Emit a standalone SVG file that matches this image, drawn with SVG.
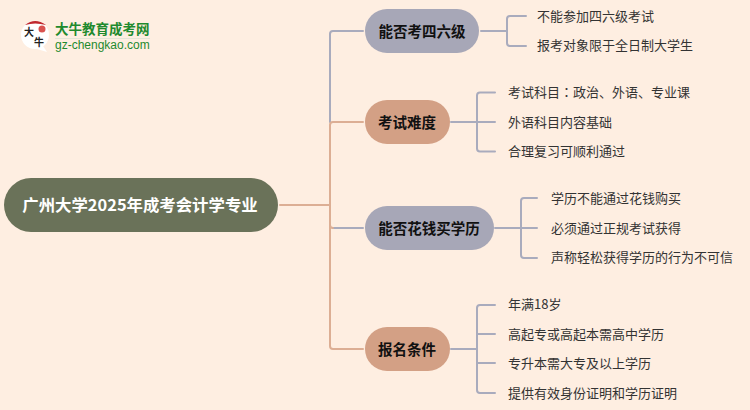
<svg xmlns="http://www.w3.org/2000/svg" width="750" height="410" viewBox="0 0 750 410">
<style>
text{font-family:"Noto Sans CJK SC","Noto Sans",sans-serif}
.l{font-size:13px;fill:#333;dominant-baseline:central}
.b{font-size:14.500px;font-weight:700;fill:#111;text-anchor:middle;dominant-baseline:central}
.p{fill:none;stroke-width:2;stroke-linecap:round}
.o{stroke:#dcae94}.g{stroke:#a9abbd}
</style>
<rect width="750" height="410" fill="#feeee1"/>
<g id="connectors">
<path class="p g" d="M363 31H333Q330 31 330 34V122"/>
<path class="p g" d="M333 228H363"/>
<path class="p o" d="M280 205H330M363 122H333Q330 122 330 125V346Q330 349 333 349H363M330 205V225Q330 228 333 228"/>
<path class="p g" d="M481 31H507M526 16H510Q507 16 507 19V43Q507 46 510 46H526"/>
<path class="p g" d="M451 122H495M495 92.500H480Q477 92.500 477 95.500V148.500Q477 151.500 480 151.500H495"/>
<path class="p g" d="M495 228H537M537 198H524Q521 198 521 201V255Q521 258 524 258H537"/>
<path class="p g" d="M451 349H477M495 305H480Q477 305 477 308V390Q477 393 480 393H495M477 334H495M477 363H495"/>
</g>
<g id="logo">
<circle cx="35" cy="35" r="14" fill="#fff"/>
<path d="M43 46L47 52L37 49Z" fill="#fff"/>
<path d="M25 25Q35 17 46 25Q35 22 25 25Z" fill="#c0272d"/>
<circle cx="42" cy="29" r="3.500" fill="#d9534f"/>
<text x="29" y="36" font-size="10" font-weight="700" fill="#222" text-anchor="middle">大</text>
<text x="39" y="46" font-size="10" font-weight="700" fill="#222" text-anchor="middle">牛</text>
<rect x="55" y="38" width="95" height="1" fill="#e3e6d6"/>
<text x="55" y="34" font-size="13.500" font-weight="700" fill="#1f8a2e">大牛教育成考网</text>
<text x="55" y="49" font-size="12" font-weight="500" fill="#1f8a2e" style="font-family:'Liberation Sans',sans-serif">gz-chengkao.com</text>
</g>
<g id="root"><rect x="4" y="178" width="274" height="54" rx="27" fill="#6a7259"/><text x="140" y="204" font-size="16.400" font-weight="700" fill="#fff" text-anchor="middle" dominant-baseline="central">广州大学2025年成考会计学专业</text></g>
<g id="n1"><rect x="365" y="9" width="114" height="44" rx="22" fill="#a7a7b7"/><text class="b" x="422" y="30">能否考四六级</text></g>
<g id="n2"><rect x="365" y="100" width="85" height="44" rx="22" fill="#d3a085"/><text class="b" x="407" y="121">考试难度</text></g>
<g id="n3"><rect x="365" y="206" width="129" height="44" rx="22" fill="#a7a7b7"/><text class="b" x="429" y="227">能否花钱买学历</text></g>
<g id="n4"><rect x="365" y="327" width="85" height="44" rx="22" fill="#d3a085"/><text class="b" x="407" y="348">报名条件</text></g>
<g id="leaves">
<text class="l" x="537" y="15">不能参加四六级考试</text>
<text class="l" x="537" y="44">报考对象限于全日制大学生</text>
<text class="l" x="508" y="91">考试科目<tspan style="font-family:'Noto Sans CJK TC',sans-serif">：</tspan>政治、外语、专业课</text>
<text class="l" x="508" y="121">外语科目内容基础</text>
<text class="l" x="508" y="150">合理复习可顺利通过</text>
<text class="l" x="551" y="197">学历不能通过花钱购买</text>
<text class="l" x="551" y="227">必须通过正规考试获得</text>
<text class="l" x="551" y="256">声称轻松获得学历的行为不可信</text>
<text class="l" x="508" y="303">年满18岁</text>
<text class="l" x="508" y="333">高起专或高起本需高中学历</text>
<text class="l" x="508" y="362">专升本需大专及以上学历</text>
<text class="l" x="508" y="392">提供有效身份证明和学历证明</text>
</g>
</svg>
